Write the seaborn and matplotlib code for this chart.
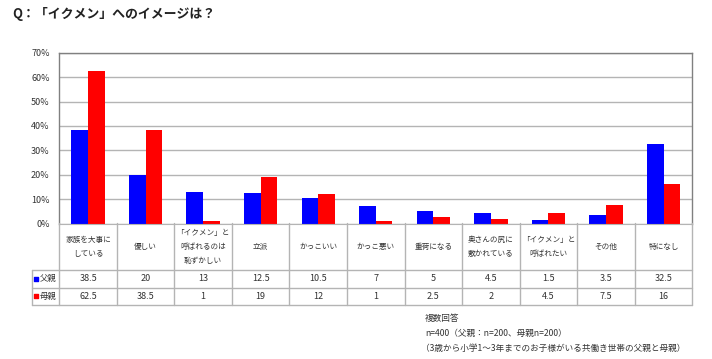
import pandas as pd
import matplotlib.pyplot as plt
import seaborn as sns

# categories and answers (%)
categories = ['家族を大事に\nしている', '優しい', '「イクメン」と\n呼ばれるのは\n恥ずかしい', '立派',
              'かっこいい', 'かっこ悪い', '重荷になる', '奥さんの尻に\n敷かれている',
              '「イクメン」と\n呼ばれたい', 'その他', '特になし']
father = [38.5, 20, 13, 12.5, 10.5, 7, 5, 4.5, 1.5, 3.5, 32.5]
mother = [62.5, 38.5, 1, 19, 12, 1, 2.5, 2, 4.5, 7.5, 16]
groups = ['父親', '母親']
yticks = [0, 10, 20, 30, 40, 50, 60, 70]

sns.set_style('white')
plt.rcParams['font.family'] = ['Noto Sans CJK JP', 'DejaVu Sans']

colors = {'父親': '#0000FF', '母親': '#FF0000'}
line_col = '#b4b4b4'
txt_col = '#333333'

df = pd.DataFrame({'cat': categories * 2,
                   'group': [groups[0]] * len(categories) + [groups[1]] * len(categories),
                   'val': father + mother})

W, H = 712, 359
fig = plt.figure(figsize=(W / 100, H / 100), dpi=100)

# main axes in pixel geometry
x0, x1, ytop, ybot = 59.3, 692.3, 52.7, 223.5
ax = fig.add_axes([x0 / W, 1 - ybot / H, (x1 - x0) / W, (ybot - ytop) / H])
sns.barplot(data=df, x='cat', y='val', hue='group', order=categories, hue_order=groups,
            palette=colors, width=0.58, saturation=1, legend=False, linewidth=0, ax=ax)
ax.set_xlim(-0.5, len(categories) - 0.5)
ax.set_ylim(0, 70)
ax.set_yticks(yticks)
ax.set_yticklabels([f'{t}%' for t in yticks], fontsize=6.5, color=txt_col)
ax.set_xticks([])
ax.set_xlabel('')
ax.set_ylabel('')
ax.tick_params(axis='y', length=0, pad=7)
ax.yaxis.grid(True, color=line_col, linewidth=1)
ax.set_axisbelow(True)
for s in ['top', 'right', 'left']:
    ax.spines[s].set_color('#808080')
    ax.spines[s].set_linewidth(1)
ax.spines['bottom'].set_color(line_col)

# data table below the chart
tx0, tyb = 32, 305
tax = fig.add_axes([tx0 / W, 1 - tyb / H, (x1 - tx0) / W, (tyb - ybot) / H])
unit = (x1 - x0) / len(categories)
left = -0.5 - (x0 - tx0) / unit
tax.set_xlim(left, len(categories) - 0.5)
tax.set_ylim(tyb, ybot)
tax.axis('off')
r1, r2 = 270, 287.5
lk = dict(color=line_col, linewidth=1, clip_on=False)
for i in range(len(categories) + 1):
    tax.plot([i - 0.5, i - 0.5], [ybot, tyb], **lk)
tax.plot([left, left], [r1, tyb], **lk)
for yy in [r1, r2, tyb]:
    tax.plot([left, len(categories) - 0.5], [yy, yy], **lk)

for i, c in enumerate(categories):
    tax.text(i, (ybot + r1) / 2, c, ha='center', va='center', fontsize=5.5,
             linespacing=2.0, color=txt_col)
    tax.text(i, (r1 + r2) / 2, f'{father[i]:g}', ha='center', va='center', fontsize=6.5, color=txt_col)
    tax.text(i, (r2 + tyb) / 2, f'{mother[i]:g}', ha='center', va='center', fontsize=6.5, color=txt_col)

for yy, g in [((r1 + r2) / 2, groups[0]), ((r2 + tyb) / 2, groups[1])]:
    tax.scatter([left + 0.075], [yy], marker='s', s=10, color=colors[g], clip_on=False)
    tax.text(left + 0.13, yy, g, ha='left', va='center', fontsize=6, color=txt_col)

fig.text(12 / W, 1 - 14 / H, 'Q：「イクメン」へのイメージは？', fontsize=9.3, fontweight='bold',
         ha='left', va='center', color='#222222')

notes = ['複数回答', 'n=400（父親：n=200、母親n=200）',
         '（3歳から小学1～3年までのお子様がいる共働き世帯の父親と母親）']
for k, (t, yy) in enumerate(zip(notes, [318, 333, 348])):
    fig.text((425 if k < 2 else 421) / W, 1 - yy / H, t, fontsize=6.2, ha='left', va='center',
             color=txt_col)

fig.savefig('out.png', dpi=100)
